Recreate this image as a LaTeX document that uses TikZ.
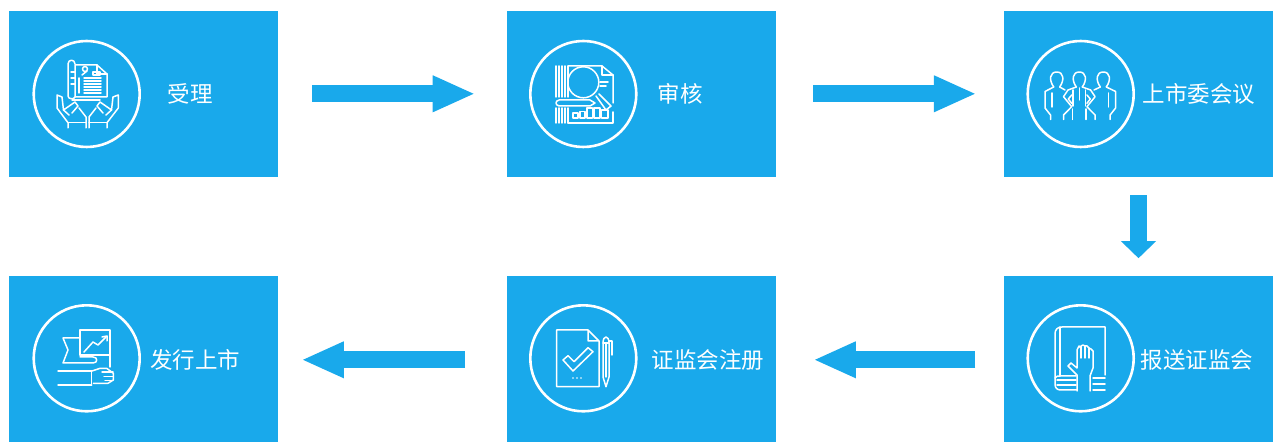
\documentclass[tikz,border=0pt]{standalone}
\usepackage{fontspec}
\usetikzlibrary{arrows.meta}
\setmainfont{Noto Sans CJK SC}
\definecolor{boxblue}{HTML}{19A9EB}
\tikzset{
stepbox/.style={fill=boxblue,minimum width=5.39cm,minimum height=3.33cm,inner sep=0pt},
steptext/.style={text=white,font=\fontsize{12.8pt}{14pt}\selectfont,inner sep=0pt},
ring/.style={draw=white,line width=.052cm,circle,minimum size=2.12cm,inner sep=0pt},
icon/.style={draw=white,line width=.03cm,line join=round,line cap=round},
flow/.style={draw=boxblue,line width=.34cm,-{Triangle[length=.85cm,width=.67cm]}},
flowdown/.style={draw=boxblue,line width=.33cm,-{Triangle[length=.34cm,width=.68cm]}}
}
\begin{document}
\begin{tikzpicture}[x=.02cm,y=-.02cm]
\useasboundingbox (0,0) rectangle (1280,448);
% boxes
\node[stepbox] (accept) at (143.3,93.8) {};
\node[stepbox] (review) at (641.3,93.8) {};
\node[stepbox] (meeting) at (1138.5,93.8) {};
\node[stepbox] (submit) at (1138.5,358.8) {};
\node[stepbox] (register) at (641.3,358.8) {};
\node[stepbox] (listing) at (143.3,358.8) {};
% arrows
\draw[flow,shorten <=.68cm,shorten >=.62cm] (accept) -- (review);
\draw[flow,shorten <=.74cm,shorten >=.54cm] (review) -- (meeting);
\draw[flowdown,shorten <=.36cm,shorten >=.34cm] (meeting) -- (submit);
\draw[flow,shorten <=.56cm,shorten >=.74cm,transform canvas={yshift=-.02cm}] (submit) -- (register);
\draw[flow,shorten <=.82cm,shorten >=.46cm,transform canvas={yshift=-.02cm}] (register) -- (listing);
% labels
\node[steptext] (accepttext) at (190,94) {受理};
\node[steptext] (reviewtext) at (680,94) {审核};
\node[steptext] (meetingtext) at (1199,94) {上市委会议};
\node[steptext] (submittext) at (1197,360) {报送证监会};
\node[steptext] (registertext) at (708,360) {证监会注册};
\node[steptext] (listingtext) at (195,360) {发行上市};
% rings
\node[ring] (acceptring) at (86.7,94) {};
\node[ring] (reviewring) at (583.3,94) {};
\node[ring] (meetingring) at (1080.7,94) {};
\node[ring] (submitring) at (1080.7,358.3) {};
\node[ring] (registerring) at (583.3,358.3) {};
\node[ring] (listingring) at (86.7,358.3) {};
% icon accept
\draw[icon] (75,97) -- (75,65) -- (97,65) -- (107,74) -- (107,97) -- (75,97);
\draw[icon] (97,65) -- (97,74) -- (107,74);
\draw[icon] (75,64) .. controls (75,59) and (68,59) .. (68,64) -- (68,96) .. controls (68,99) and (74,100) .. (75,97);
\draw[icon] (72,100) -- (100,100);
\draw[icon] (85,69) circle (2.5);
\draw[icon] (82,75) -- (87,71);
\draw[icon] (93,72) rectangle (100,75);
\foreach \yy in {78,81,84,87,90,93} \draw[icon] (84,\yy) -- (101,\yy);
\draw[icon] (79,78) -- (79,93);
\foreach \yy in {72,78,84} \draw[icon] (71,\yy) -- (75,\yy);
\draw[icon] (68,128) -- (68,122.7) -- (57,108) -- (57,95) -- (62,97) -- (63.5,110) -- (75,102) -- (78,106) -- (72,113);
\draw[icon] (63.5,110) -- (69,115);
\draw[icon] (79,108) -- (86,117) -- (86,128);
\draw[icon] (68,122.7) -- (86,122.7);
\draw[icon] (107,128) -- (107,122.7) -- (118.3,108) -- (118.3,95) -- (113,97) -- (111.5,110) -- (100,102) -- (97,106) -- (103,113);
\draw[icon] (111.5,110) -- (106,115);
\draw[icon] (96,108) -- (89,117) -- (89,128);
\draw[icon] (89,122.7) -- (107,122.7);
% icon review
\foreach \xx in {556,559,562,565,568} {
\draw[icon] (\xx,66) -- (\xx,97);
\draw[icon] (\xx,108) -- (\xx,123);
}
\draw[icon] (568,66) -- (602,66) -- (613,75) -- (613,103);
\draw[icon] (602,66) -- (602,75) -- (613,75);
\draw[icon] (583.3,82.3) circle (15.5);
\draw[icon] (600,82) -- (608,82);
\draw[icon] (600,86) -- (606,86);
\draw[icon] (596,96) -- (606,110) -- (611,106) -- (599,94);
\draw[icon] (559,100) -- (590,100) -- (595,103) -- (590,106) -- (559,106) .. controls (555,105) and (555,101) .. (559,100);
\draw[icon] (568,123) -- (613,123) -- (613,112);
\draw[icon] (573,113) rectangle (578,118);
\draw[icon] (580,111.7) rectangle (585,118);
\draw[icon] (587,108) rectangle (592.7,118);
\draw[icon] (594,108) rectangle (600,118);
\draw[icon] (601.7,110) rectangle (608,118);
% icon meeting
\foreach \xx in {1056.7,1079.3,1103.3} {
\draw[icon] (\xx-3,87) .. controls (\xx-8,80) and (\xx-7,72) .. (\xx,72) .. controls (\xx+7,72) and (\xx+8,80) .. (\xx+3,87);
}
\draw[icon] (1053.7,87) -- (1045,91.5) -- (1045,108) -- (1050.5,115) -- (1050.5,119.5);
\draw[icon] (1052,93) -- (1052,107);
\draw[icon] (1059.7,87) -- (1065,90);
\draw[icon] (1076.3,87) -- (1068,90) -- (1063.5,96.7) -- (1071.7,106.7) -- (1063.5,115) -- (1063.5,119.5);
\draw[icon] (1073,90) -- (1073,106);
\draw[icon] (1072.7,109) -- (1072.7,119.5);
\draw[icon] (1071.7,95) -- (1068.3,99) -- (1071.7,103.3);
\draw[icon] (1079.3,88) -- (1079.3,100);
\draw[icon] (1082.3,87) -- (1090.6,90) -- (1095.1,96.7) -- (1086.9,106.7) -- (1095.1,115) -- (1095.1,119.5);
\draw[icon] (1085.6,90) -- (1085.6,106);
\draw[icon] (1085.9,109) -- (1085.9,119.5);
\draw[icon] (1086.9,95) -- (1090.3,99) -- (1086.9,103.3);
\draw[icon] (1100.3,87) -- (1094,90);
\draw[icon] (1106.3,87) -- (1115.6,91.5) -- (1115.6,108) -- (1110.1,115) -- (1110.1,119.5);
\draw[icon] (1108.6,93) -- (1108.6,107);
% icon submit
\draw[icon] (1105,375) -- (1105,327) -- (1062,327) .. controls (1057,327) and (1055,330) .. (1055,334) -- (1055,384) .. controls (1055,388) and (1057,390) .. (1061,390) -- (1077,390);
\draw[icon] (1060,327) -- (1060,376);
\draw[icon] (1055,378) .. controls (1056,376) and (1058,376) .. (1060,376) -- (1076,376);
\foreach \yy in {380,385} \draw[icon] (1057,\yy) -- (1076,\yy);
\foreach \yy in {378,384,390} \draw[icon] (1093,\yy) -- (1105,\yy);
\draw[icon] (1077,391) -- (1077,375) -- (1068,366) -- (1071,363) -- (1077,368) -- (1077,350) -- (1079,346) -- (1081,348) -- (1081,346) -- (1083,345) -- (1085,346) -- (1087,346) -- (1089,348) -- (1091,349) -- (1093,351) -- (1093,368) -- (1090,376) -- (1090,391);
\draw[icon] (1081,348) -- (1081,358);
\draw[icon] (1085,346) -- (1085,358);
\draw[icon] (1089,348) -- (1089,358);
% icon register
\draw[icon] (588,330) -- (556.7,330) -- (556.7,386.7) -- (599,386.7) -- (599,341) -- (588,330) -- (588,341) -- (599,341);
\draw[icon] (563,360) -- (573,371) -- (593,351.7) -- (588,347.7) -- (574,361.7) -- (568,355.7) -- cycle;
\foreach \xx in {573,577,581} \fill[white] (\xx,378) circle (.9);
\draw[icon] (603,343) .. controls (603,335) and (609,335) .. (609,343) -- (609,377) -- (606,386.7) -- (603,377) -- cycle;
\draw[icon] (603,343) -- (609,343);
\draw[icon] (606,343) -- (606,377);
\draw[icon] (609,341) -- (612,341) -- (612,355);
% icon listing
\draw[icon] (80,355) -- (80,330) -- (110,330) -- (110,367);
\draw[icon] (84,352) -- (93,342) -- (98,345) -- (106,337);
\draw[icon] (102,337) -- (107,336) -- (107,341);
\draw[icon] (80,338) -- (63,338) -- (68,350) -- (63,363) -- (93,363) .. controls (98,363) and (98,357) .. (93,357) -- (80,357);
\draw[icon] (80,355) -- (110,355);
\draw[icon] (58,371) -- (91.7,371);
\draw[icon] (58,385) -- (91.7,385);
\draw[icon] (91.7,371) -- (91.7,385);
\draw[icon] (92,371) -- (100,368.3) -- (106.7,368.3) -- (113.3,373.3) -- (113.3,380) -- (108,383.3) -- (93.3,383.3);
\draw[icon] (102,372) -- (113,372);
\draw[icon] (104,376.5) -- (113,376.5);
\draw[icon] (105,380.5) -- (112,380.5);
\end{tikzpicture}
\end{document}
